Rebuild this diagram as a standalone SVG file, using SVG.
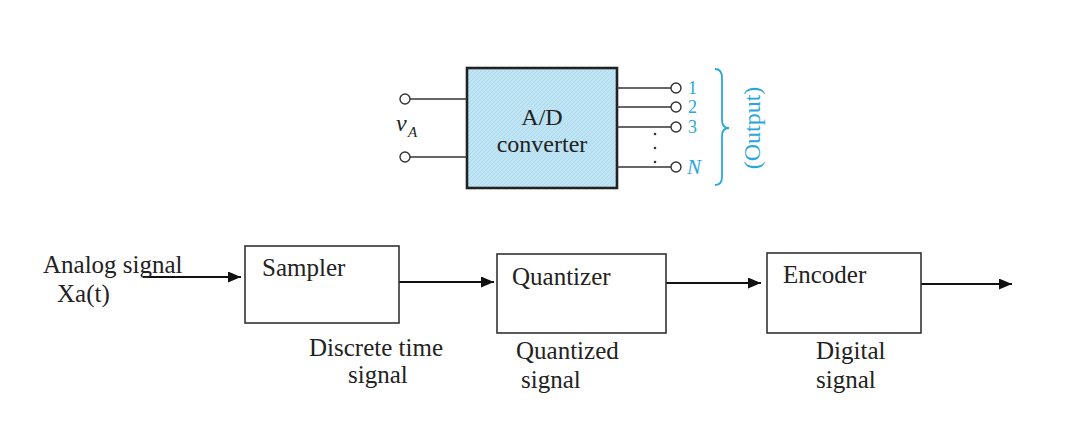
<svg xmlns="http://www.w3.org/2000/svg" width="1075" height="443" viewBox="0 0 1075 443">
<defs>
<marker id="arr" markerUnits="userSpaceOnUse" markerWidth="15" markerHeight="12" refX="13" refY="5.5" orient="auto">
<path d="M0,0 L13,5.5 L0,11 z" fill="#111"/>
</marker>
<pattern id="hatch" width="4" height="4" patternUnits="userSpaceOnUse">
<rect width="4" height="4" fill="#bfe4f3"/>
<path d="M0,4 L4,0" stroke="#a9d8ec" stroke-width="0.8"/>
</pattern>
</defs>
<style>
text{font-family:"Liberation Serif","Times New Roman",serif;fill:#222}
.t{font-size:25px}
.blue{fill:#2aa6d9}
.box{fill:#fff;stroke:#333;stroke-width:1.6}
.wire{stroke:#333;stroke-width:1.4;fill:none}
.term{fill:#fff;stroke:#333;stroke-width:1.4}
.conn{stroke:#111;stroke-width:2;fill:none;marker-end:url(#arr)}
</style>
<rect width="1075" height="443" fill="#fff"/>

<g id="adc">
<rect x="467" y="68" width="150" height="120" fill="url(#hatch)" stroke="#222" stroke-width="2.6"/>
<text x="542" y="125" text-anchor="middle" style="font-size:24px">A/D</text>
<text x="542" y="152" text-anchor="middle" style="font-size:24px">converter</text>
</g>

<g id="input-terminals">
<line class="wire" x1="410" y1="99" x2="467" y2="99"/>
<line class="wire" x1="410" y1="157" x2="467" y2="157"/>
<circle class="term" cx="405" cy="99" r="5"/>
<circle class="term" cx="405" cy="157" r="5"/>
<text x="396" y="131" style="font-size:24px;font-style:italic">v</text>
<text x="408" y="137" style="font-size:15px;font-style:italic">A</text>
</g>

<g id="output-terminals">
<line class="wire" x1="617" y1="88" x2="671" y2="88"/>
<line class="wire" x1="617" y1="107" x2="671" y2="107"/>
<line class="wire" x1="617" y1="127" x2="671" y2="127"/>
<line class="wire" x1="617" y1="167" x2="671" y2="167"/>
<circle class="term" cx="676" cy="88" r="5"/>
<circle class="term" cx="676" cy="107" r="5"/>
<circle class="term" cx="676" cy="127" r="5"/>
<circle class="term" cx="676" cy="167" r="5"/>
<circle cx="655" cy="134" r="1.3" fill="#333"/>
<circle cx="655" cy="148" r="1.3" fill="#333"/>
<circle cx="655" cy="162" r="1.3" fill="#333"/>
<text class="blue" x="688" y="94" style="font-size:18px">1</text>
<text class="blue" x="688" y="113" style="font-size:18px">2</text>
<text class="blue" x="688" y="133" style="font-size:18px">3</text>
<text class="blue" x="687" y="174" style="font-size:21px;font-style:italic">N</text>
<path d="M715,69 Q722,69 722,78 L722,120 Q722,128 729,128 Q722,128 722,136 L722,177 Q722,185 715,185" fill="none" stroke="#2aa6d9" stroke-width="1.8"/>
<text class="blue" transform="translate(760,128) rotate(-90)" text-anchor="middle" style="font-size:24px">(Output)</text>
</g>

<g id="connectors">
<line class="conn" x1="143" y1="277" x2="241" y2="277"/>
<line class="conn" x1="399" y1="282" x2="494" y2="282"/>
<line class="conn" x1="666" y1="283" x2="761" y2="283"/>
<line class="conn" x1="915" y1="284" x2="1012" y2="284"/>
</g>

<g id="input-label">
<text class="t" x="43" y="273">Analog signal</text>
<text class="t" x="57" y="302">Xa(t)</text>
</g>

<g id="sampler">
<rect class="box" x="245" y="246" width="154" height="77"/>
<text class="t" x="262" y="276">Sampler</text>
<text class="t" x="309" y="356">Discrete time</text>
<text class="t" x="348" y="383">signal</text>
</g>

<g id="quantizer">
<rect class="box" x="497" y="254" width="169" height="79"/>
<text class="t" x="512" y="285">Quantizer</text>
<text class="t" x="516" y="359">Quantized</text>
<text class="t" x="521" y="388">signal</text>
</g>

<g id="encoder">
<rect class="box" x="767" y="253" width="154" height="80"/>
<text class="t" x="783" y="283">Encoder</text>
<text class="t" x="816" y="359">Digital</text>
<text class="t" x="816" y="388">signal</text>
</g>
</svg>
